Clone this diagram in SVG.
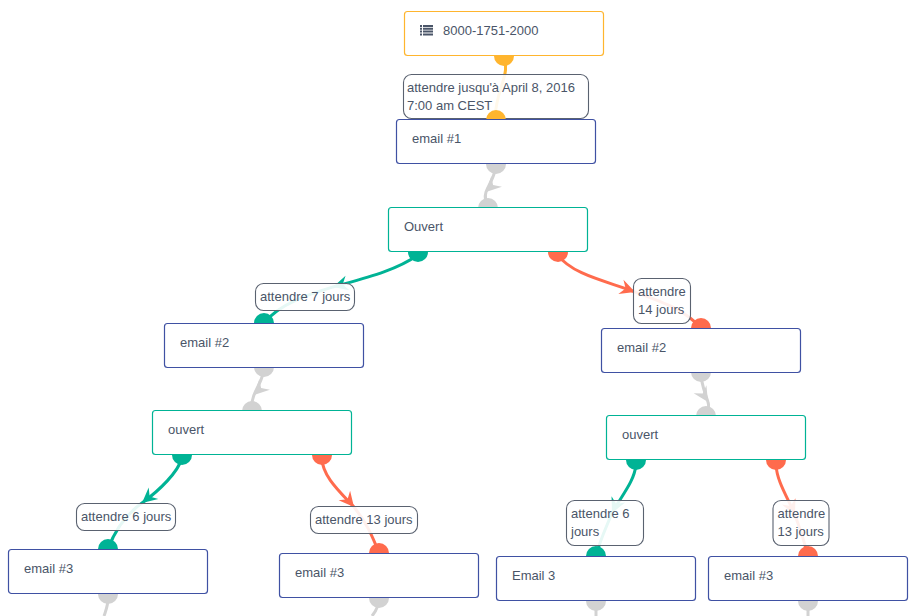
<svg xmlns="http://www.w3.org/2000/svg" width="918" height="616" viewBox="0 0 918 616">
<style>
text{font-family:"Liberation Sans",Arial,sans-serif;font-size:13px;fill:#4a5568}
.n rect{fill:#fff;rx:3px;ry:3px;stroke-width:1.2}
.blue rect{stroke:#3f51a3}
.teal rect{stroke:#00b395}
.gold rect{stroke:#ffb52e}
.l rect{fill:#fff;fill-opacity:.9;stroke:#5a6270;stroke-width:1.1;rx:8px;ry:8px}
.c{fill:none;stroke-width:3}
.og{stroke:#ffb52e}.gr{stroke:#00b395}.re{stroke:#ff6b4d}.gy{stroke:#d2d2d2}
.fog{fill:#ffb52e}.fgr{fill:#00b395}.fre{fill:#ff6b4d}.fgy{fill:#d2d2d2}
</style>
<defs><path id="ah" d="M0,0L-15,-7.500L-10,0L-15,7.500Z"/></defs>
<g id="connectors">
<path class="c og" d="M505.500 56V70C504 84 496 95 495 118"/>
<path class="c gy" d="M496 164C496 175 490 182 486 192C484 198 486 203 488 208"/>
<use href="#ah" class="fgy" transform="translate(486,192) rotate(135)"/>
<path class="c gr" d="M418 255C395 271 365 278 333 287C310 294 280 303 264 323"/>
<use href="#ah" class="fgr" transform="translate(333,287) rotate(165)"/>
<path class="c re" d="M558 255C572 275 610 282 635 292C665 303 685 310 701 328"/>
<use href="#ah" class="fre" transform="translate(635,292) rotate(20)"/>
<path class="c gy" d="M264 367C264 378 258 385 254 395C252 401 250 406 252 411"/>
<use href="#ah" class="fgy" transform="translate(254,395) rotate(135)"/>
<path class="c gy" d="M701 372C701 385 705 392 708 402C710 408 707 412 706 416"/>
<use href="#ah" class="fgy" transform="translate(708,402) rotate(58)"/>
<path class="c gr" d="M182 458C178 472 160 490 142 503C125 515 115 530 108 549"/>
<use href="#ah" class="fgr" transform="translate(142,503) rotate(140)"/>
<path class="c re" d="M322 458C322 476 340 492 354 507C366 522 372 535 379 553"/>
<use href="#ah" class="fre" transform="translate(354,507) rotate(50)"/>
<path class="c gr" d="M636 465C634 482 622 495 612 513C606 528 600 540 596 556"/>
<use href="#ah" class="fgr" transform="translate(612,513) rotate(115)"/>
<path class="c re" d="M776 465C777 482 788 498 795 515C800 528 804 540 808 556"/>
<use href="#ah" class="fre" transform="translate(795,515) rotate(65)"/>
<path class="c gy" d="M108 594C109 604 106 610 104 616"/>
<path class="c gy" d="M379 598C379 606 376 611 372 616"/>
<path class="c gy" d="M596 600V616"/>
<path class="c gy" d="M808 600V616"/>
</g>
<g id="labels">
<g id="label-date" class="l"><rect x="403.500" y="74.500" width="185" height="44"/><text x="407" y="92">attendre jusqu'à April 8, 2016</text><text x="407" y="110">7:00 am CEST</text></g>
<g id="label-7" class="l"><rect x="255.500" y="283.500" width="99" height="27"/><text x="260" y="301">attendre 7 jours</text></g>
<g id="label-14" class="l"><rect x="633.500" y="278.500" width="57" height="45"/><text x="638" y="296">attendre</text><text x="638" y="314">14 jours</text></g>
<g id="label-6a" class="l"><rect x="76.500" y="503.500" width="99" height="27"/><text x="81" y="521">attendre 6 jours</text></g>
<g id="label-13a" class="l"><rect x="310.500" y="506.500" width="107" height="27"/><text x="315" y="524">attendre 13 jours</text></g>
<g id="label-6b" class="l"><rect x="566.500" y="500.500" width="77" height="45"/><text x="571" y="518">attendre 6</text><text x="571" y="536">jours</text></g>
<g id="label-13b" class="l"><rect x="773" y="500.500" width="56" height="45"/><text x="777.500" y="518">attendre</text><text x="777.500" y="536">13 jours</text></g>
</g>
<g id="ports">
<circle class="fog" cx="504" cy="56" r="10"/><circle class="fog" cx="496" cy="120" r="10"/>
<circle class="fgy" cx="496" cy="164" r="10"/><circle class="fgy" cx="488" cy="208" r="10"/>
<circle class="fgr" cx="418" cy="252" r="10"/><circle class="fre" cx="558" cy="252" r="10"/>
<circle class="fgr" cx="264" cy="323" r="10"/><circle class="fre" cx="701" cy="328" r="10"/>
<circle class="fgy" cx="264" cy="367" r="10"/><circle class="fgy" cx="701" cy="372" r="10"/>
<circle class="fgy" cx="252" cy="411" r="10"/><circle class="fgy" cx="706" cy="416" r="10"/>
<circle class="fgr" cx="182" cy="455" r="10"/><circle class="fre" cx="322" cy="455" r="10"/>
<circle class="fgr" cx="636" cy="460" r="10"/><circle class="fre" cx="776" cy="460" r="10"/>
<circle class="fgr" cx="108" cy="549" r="10"/><circle class="fre" cx="379" cy="553" r="10"/>
<circle class="fgr" cx="596" cy="556" r="10"/><circle class="fre" cx="808" cy="556" r="10"/>
<circle class="fgy" cx="108" cy="594" r="10"/><circle class="fgy" cx="379" cy="598" r="10"/>
<circle class="fgy" cx="596" cy="601" r="10"/><circle class="fgy" cx="808" cy="601" r="10"/>
</g>
<g id="node-start" class="n gold"><rect x="404.500" y="11.500" width="199" height="44"/>
<path d="M420 25h2v2h-2zM423 25h10v2h-10zM420 27.800h2v2h-2zM423 27.800h10v2h-10zM420 30.600h2v2h-2zM423 30.600h10v2h-10zM420 33.400h2v2h-2zM423 33.400h10v2h-10z" fill="#4a5568"/>
<text x="443" y="35">8000-1751-2000</text></g>
<g id="node-email1" class="n blue"><rect x="396.500" y="119.500" width="199" height="44"/><text x="412" y="143">email #1</text></g>
<g id="node-ouvert" class="n teal"><rect x="388.500" y="207.500" width="199" height="44"/><text x="404" y="231">Ouvert</text></g>
<g id="node-email2a" class="n blue"><rect x="164.500" y="323.500" width="199" height="44"/><text x="180" y="347">email #2</text></g>
<g id="node-email2b" class="n blue"><rect x="601.500" y="328.500" width="199" height="44"/><text x="617" y="352">email #2</text></g>
<g id="node-ouvert-a" class="n teal"><rect x="152.500" y="410.500" width="199" height="44"/><text x="168" y="434">ouvert</text></g>
<g id="node-ouvert-b" class="n teal"><rect x="606.500" y="415.500" width="199" height="44"/><text x="622" y="439">ouvert</text></g>
<g id="node-email3a" class="n blue"><rect x="8.500" y="549.500" width="199" height="44"/><text x="24" y="573">email #3</text></g>
<g id="node-email3b" class="n blue"><rect x="279.500" y="553.500" width="199" height="44"/><text x="295" y="577">email #3</text></g>
<g id="node-email3c" class="n blue"><rect x="496.500" y="556.500" width="199" height="44"/><text x="512" y="580">Email 3</text></g>
<g id="node-email3d" class="n blue"><rect x="708.500" y="556.500" width="199" height="44"/><text x="724" y="580">email #3</text></g>
</svg>
